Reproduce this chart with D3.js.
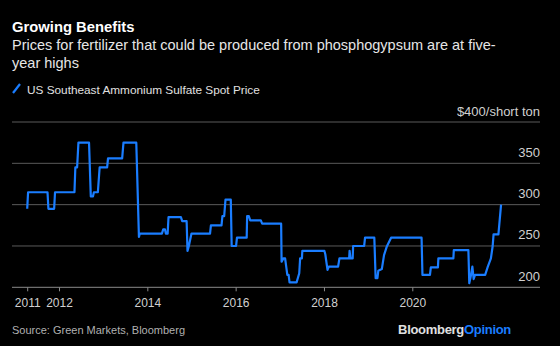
<!doctype html>
<html lang="en">
<head>
<meta charset="UTF-8">
<title>Growing Benefits</title>
<script src="https://cdn.jsdelivr.net/npm/d3@7"></script>
<style>
	html, body { margin: 0; padding: 0; background: #000; }
	svg { display: block; font-family: "Liberation Sans", Arial, sans-serif; }
</style>
</head>
<body>
<div id="container"></div>
<script>
	var width = 560, height = 346;

	// price series (decimal year, $/short ton)
	var years = [2011.28, 2011.30, 2011.74, 2011.76, 2011.89, 2011.91, 2012.35, 2012.37, 2012.41, 2012.44,
		2012.68, 2012.72, 2012.77, 2012.79, 2012.88, 2012.92, 2013.09, 2013.11, 2013.43, 2013.46,
		2013.75, 2013.81, 2013.83, 2014.33, 2014.36, 2014.40, 2014.42, 2014.46, 2014.48, 2014.76,
		2014.79, 2014.89, 2014.91, 2014.94, 2015.00, 2015.42, 2015.44, 2015.68, 2015.70, 2015.74,
		2015.77, 2015.89, 2015.91, 2016.01, 2016.03, 2016.25, 2016.26, 2016.30, 2016.33, 2016.57,
		2016.60, 2017.03, 2017.04, 2017.08, 2017.12, 2017.17, 2017.20, 2017.22, 2017.38, 2017.44,
		2017.46, 2017.50, 2017.51, 2018.01, 2018.03, 2018.08, 2018.11, 2018.32, 2018.35, 2018.57,
		2018.58, 2018.60, 2018.65, 2018.66, 2018.91, 2018.93, 2019.14, 2019.17, 2019.21, 2019.23,
		2019.31, 2019.36, 2019.42, 2019.52, 2020.21, 2020.23, 2020.40, 2020.42, 2020.58, 2020.59,
		2020.93, 2020.94, 2021.27, 2021.29, 2021.33, 2021.36, 2021.39, 2021.42, 2021.65, 2021.71,
		2021.78, 2021.82, 2021.84, 2021.95, 2022.01];
	var prices = [295, 315, 315, 295, 295, 315, 315, 345, 345, 375,
		375, 310, 310, 315, 315, 345, 345, 356, 356, 375,
		375, 261, 265, 265, 270, 270, 265, 265, 285, 285,
		280, 280, 244, 250, 265, 265, 275, 275, 286, 286,
		306, 306, 250, 250, 260, 260, 286, 286, 281, 281,
		277, 277, 231, 235, 235, 215, 215, 206, 206, 217,
		235, 235, 244, 244, 240, 221, 225, 225, 235, 235,
		244, 235, 235, 250, 250, 260, 260, 211, 211, 220,
		222, 239, 249, 260, 260, 215, 215, 224, 224, 235,
		235, 245, 245, 205, 215, 225, 210, 215, 215, 225,
		235, 250, 264, 264, 300];

	var xTickValues = [2011.28, 2012, 2014, 2016, 2018, 2020];
	var xTickLabels = ["2011", "2012", "2014", "2016", "2018", "2020"];
	var yTickValues = [200, 250, 300, 350, 400];
	var yTickLabels = ["200", "250", "300", "350", "$400/short ton"];

	var seriesName = "US Southeast Ammonium Sulfate Spot Price";
	var blue = "#1a7dff";

	var data = years.map(function (d, i) { return {year: d, price: prices[i]}; });

	var scale_x = d3.scaleLinear().domain([2012, 2020]).range([59, 412.3]);
	var scale_y = d3.scaleLinear().domain([200, 400]).range([287.3, 122]);

	var svg = d3.select("#container").append("svg")
		.attr("width", width)
		.attr("height", height);

	svg.append("rect").attr("width", width).attr("height", height).attr("fill", "#000");

	// title block
	svg.append("text").attr("x", 12).attr("y", 31.5)
		.attr("fill", "#fff").attr("font-size", 14.8).attr("font-weight", "bold")
		.text("Growing Benefits");
	var sub = svg.append("text").attr("x", 12).attr("y", 50)
		.attr("fill", "#e6e6e6").attr("font-size", 14.5);
	sub.append("tspan").attr("x", 12).text("Prices for fertilizer that could be produced from phosphogypsum are at five-");
	sub.append("tspan").attr("x", 12).attr("dy", 18).text("year highs");

	// legend
	svg.append("line").attr("x1", 13).attr("y1", 93).attr("x2", 20).attr("y2", 84)
		.attr("stroke", blue).attr("stroke-width", 2.2);
	svg.append("text").attr("x", 27).attr("y", 93.5)
		.attr("fill", "#e0e0e0").attr("font-size", 11.8)
		.text(seriesName);

	// grid + y labels
	var grid = svg.append("g");
	grid.selectAll("line").data(yTickValues.slice(1)).enter().append("line")
		.attr("x1", 12).attr("x2", 540)
		.attr("y1", function (d) { return scale_y(d); })
		.attr("y2", function (d) { return scale_y(d); })
		.attr("stroke", "#5a5a5a").attr("stroke-width", 1);
	grid.selectAll("text").data(yTickValues).enter().append("text")
		.attr("x", 540)
		.attr("y", function (d) { return scale_y(d) - 6.5; })
		.attr("text-anchor", "end")
		.attr("fill", "#d0d0d0").attr("font-size", 13)
		.text(function (d, i) { return yTickLabels[i]; });

	// x axis
	var x_axis = d3.axisBottom(scale_x)
		.tickValues(xTickValues)
		.tickSize(4)
		.tickPadding(7)
		.tickFormat(function (d, i) { return xTickLabels[i]; });
	var gx = svg.append("g")
		.attr("transform", "translate(0," + scale_y(200) + ")")
		.call(x_axis);
	gx.select(".domain").remove();
	gx.insert("line", ":first-child").attr("x1", 12).attr("x2", 540)
		.attr("stroke", "#8a8a8a").attr("stroke-width", 1);
	gx.selectAll(".tick line").attr("stroke", "#8a8a8a");
	gx.selectAll(".tick text").attr("fill", "#d0d0d0").attr("font-size", 12)
		.attr("font-family", "\"Liberation Sans\", Arial, sans-serif");

	// price line
	var line_generator = d3.line()
		.x(function (d) { return scale_x(d.year); })
		.y(function (d) { return scale_y(d.price); });
	svg.append("path")
		.attr("d", line_generator(data))
		.attr("fill", "none")
		.attr("stroke", blue)
		.attr("stroke-width", 2.2)
		.attr("stroke-linejoin", "round");

	// footer
	svg.append("text").attr("x", 12).attr("y", 334)
		.attr("fill", "#b0b0b0").attr("font-size", 11)
		.text("Source: Green Markets, Bloomberg");
	var brand = svg.append("text").attr("x", 511).attr("y", 334)
		.attr("text-anchor", "end").attr("font-size", 13).attr("font-weight", "bold")
		.attr("letter-spacing", -0.3);
	brand.append("tspan").attr("fill", "#e0e0e0").text("Bloomberg");
	brand.append("tspan").attr("fill", blue).text("Opinion");
</script>
</body>
</html>
